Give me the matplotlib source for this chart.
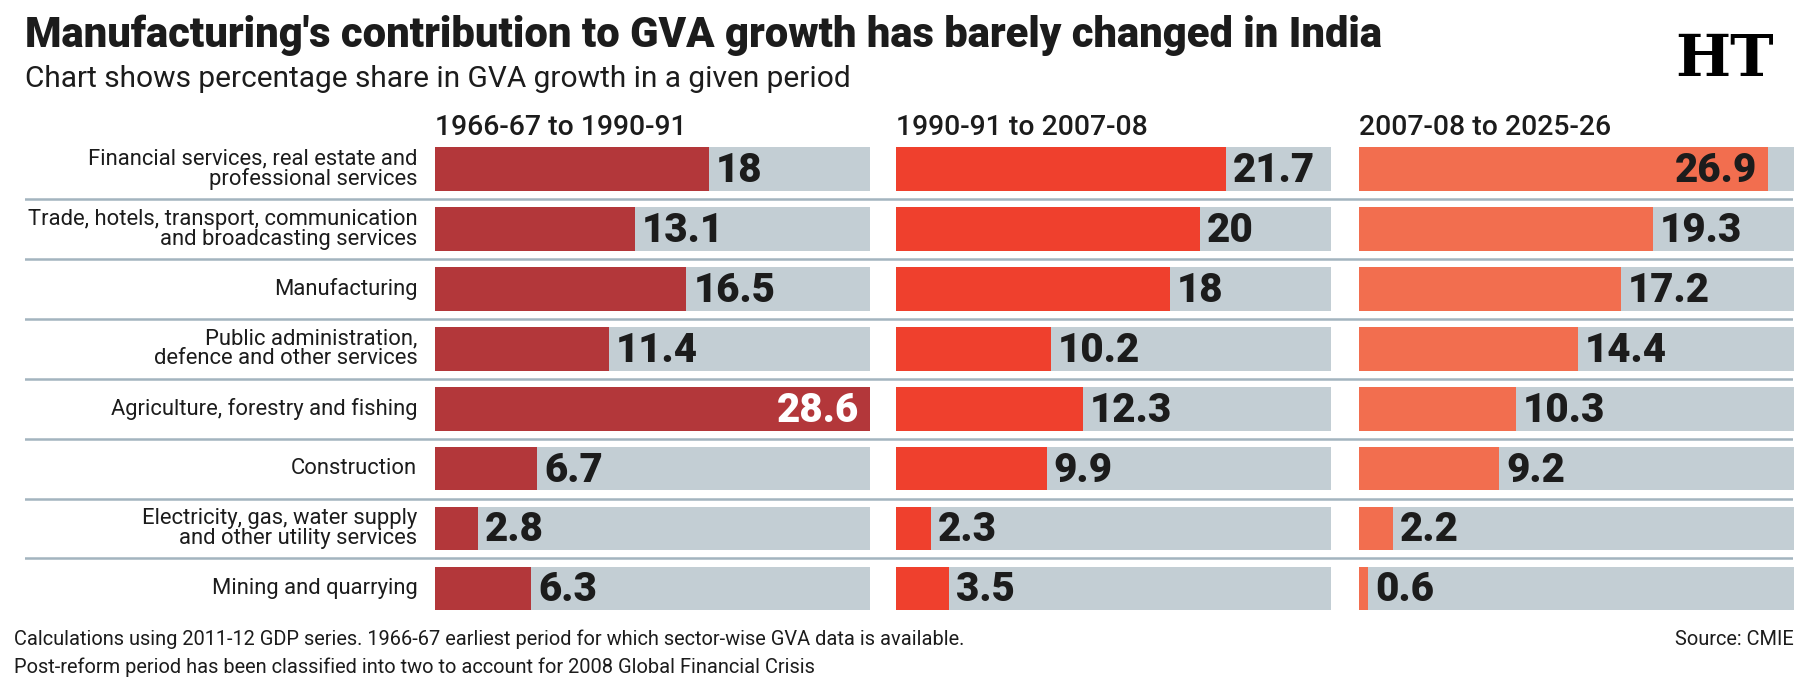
import matplotlib
matplotlib.use('Agg')
import matplotlib.pyplot as plt
from matplotlib.colors import to_rgb

# ---------------- data ----------------
sectors = [
    "Financial services, real estate and\nprofessional services",
    "Trade, hotels, transport, communication\nand broadcasting services",
    "Manufacturing",
    "Public administration,\ndefence and other services",
    "Agriculture, forestry and fishing",
    "Construction",
    "Electricity, gas, water supply\nand other utility services",
    "Mining and quarrying",
]
periods = ["1966-67 to 1990-91", "1990-91 to 2007-08", "2007-08 to 2025-26"]
share_1966_1991 = [18, 13.1, 16.5, 11.4, 28.6, 6.7, 2.8, 6.3]
share_1991_2008 = [21.7, 20, 18, 10.2, 12.3, 9.9, 2.3, 3.5]
share_2008_2026 = [26.9, 19.3, 17.2, 14.4, 10.3, 9.2, 2.2, 0.6]
series = [share_1966_1991, share_1991_2008, share_2008_2026]

title = "Manufacturing's contribution to GVA growth has barely changed in India"
subtitle = "Chart shows percentage share in GVA growth in a given period"
note1 = "Calculations using 2011-12 GDP series. 1966-67 earliest period for which sector-wise GVA data is available."
note2 = "Post-reform period has been classified into two to account for 2008 Global Financial Crisis"
source = "Source: CMIE"

# ---------------- style ----------------
bar_colors = ["#b3373a", "#ef402d", "#f26e4f"]
track_color = "#c3ced4"
sep_color = "#a3b4bf"
text_color = "#1c1c1c"
FONT = ['Roboto', 'DejaVu Sans']

W, H = 1806, 692
fig = plt.figure(figsize=(W / 100, H / 100), dpi=100)
fig.patch.set_facecolor('white')
renderer = fig.canvas.get_renderer()


def fit(text, width_px, **kw):
    t = fig.text(0, 0, text, fontsize=20, **kw)
    w = t.get_window_extent(renderer).width
    t.remove()
    return 20 * width_px / w


# layout (fractions)
panel_left = [0.2411, 0.4962, 0.7526]
panel_w = 0.2408
ax_bottom = 0.1065
ax_top = 0.7987
bar_h = 0.73
n = len(sectors)
xmax = max(max(s) for s in series)

# background axes for separator lines
bg = fig.add_axes([0.014, ax_bottom, 0.993 - 0.014, ax_top - ax_bottom])
bg.set_xlim(0, 1)
bg.set_ylim(n - 0.5, -0.5)
bg.axis('off')
for k in range(n - 1):
    bg.axhline(k + 0.5, color=sep_color, lw=1.8, zorder=0)

fs_label = fit("Trade, hotels, transport, communication", 389, family=FONT)
fs_val = 29
fs_ptitle = fit(periods[0], 252, family=FONT, weight='medium')

for p, (vals, col) in enumerate(zip(series, bar_colors)):
    ax = fig.add_axes([panel_left[p], ax_bottom, panel_w, ax_top - ax_bottom])
    ax.patch.set_alpha(0)
    ax.set_xlim(0, xmax)
    ax.set_ylim(n - 0.5, -0.5)
    ax.axis('off')
    ys = list(range(n))
    ax.barh(ys, [xmax] * n, height=bar_h, color=track_color, zorder=1)
    ax.barh(ys, vals, height=bar_h, color=col, zorder=2)
    r, g, b = to_rgb(col)
    lum = 0.299 * r + 0.587 * g + 0.114 * b
    inside_color = 'white' if lum < 0.45 else text_color
    for y, v in zip(ys, vals):
        lab = f"{v:g}"
        if v / xmax > 0.85:
            ax.annotate(lab, xy=(v, y), xytext=(-8, -1), textcoords='offset points',
                        ha='right', va='center', fontsize=fs_val, fontweight='heavy',
                        family=FONT, color=inside_color, zorder=3)
        else:
            ax.annotate(lab, xy=(v, y), xytext=(5, -1), textcoords='offset points',
                        ha='left', va='center', fontsize=fs_val, fontweight='heavy',
                        family=FONT, color=text_color, zorder=3)
    fig.text(panel_left[p], 0.805, periods[p], fontsize=fs_ptitle, family=FONT,
             fontweight='medium', color=text_color, va='baseline', ha='left')
    if p == 0:
        for y, lab in zip(ys, sectors):
            ax.annotate(lab, xy=(0, y), xytext=(-13, 0), textcoords='offset points',
                        ha='right', va='center', fontsize=fs_label, family=FONT,
                        color=text_color, linespacing=0.95, multialignment='right')

# title & subtitle
fig.text(0.014, 0.932, title, fontsize=fit(title, 1357, family=FONT, weight='heavy'),
         family=FONT, fontweight='heavy', color=text_color, va='baseline')
fig.text(0.014, 0.874, subtitle, fontsize=fit(subtitle, 825, family=FONT),
         family=FONT, color=text_color, va='baseline')
# logo
fig.text(0.955, 0.913, "HT", fontsize=42, family='DejaVu Serif', fontweight='bold',
         color='black', ha='center', va='center')

# footnotes
fs_note = fit(note1, 951, family=FONT)
fig.text(0.008, 0.068, note1, fontsize=fs_note, family=FONT, color=text_color, va='baseline')
fig.text(0.008, 0.028, note2, fontsize=fs_note, family=FONT, color=text_color, va='baseline')
fig.text(0.993, 0.068, source, fontsize=fs_note, family=FONT, color=text_color,
         va='baseline', ha='right')

fig.savefig('out.png', dpi=100, facecolor='white')
